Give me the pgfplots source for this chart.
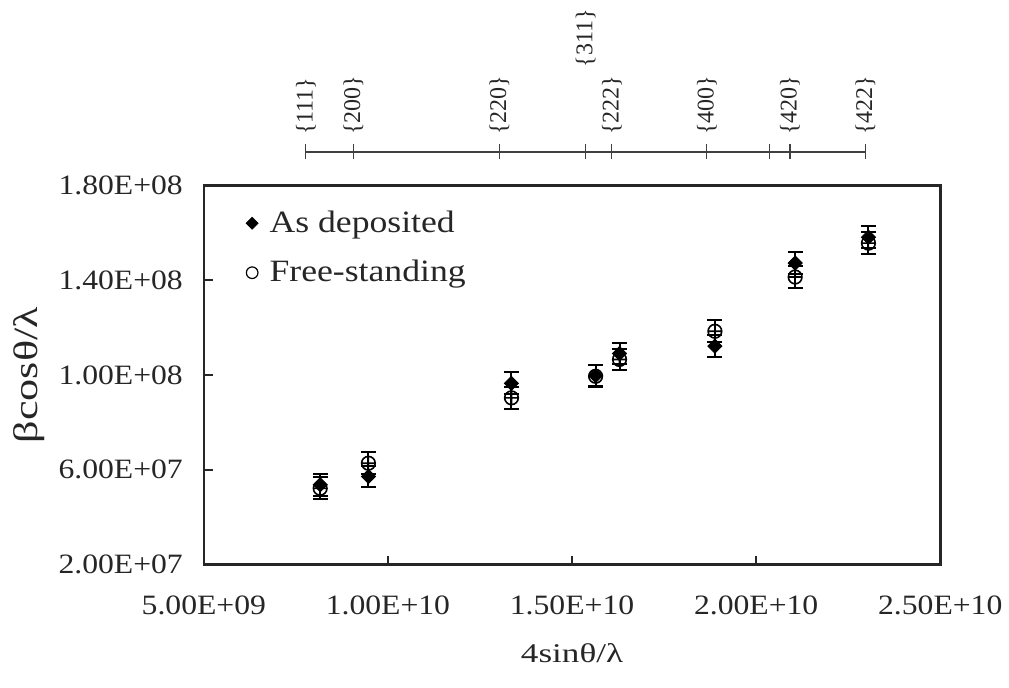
\documentclass[border=0pt]{standalone}
\usepackage{fontspec}
\setmainfont{Liberation Serif}[FakeStretch=1.15]
\newfontfamily\tickfont{Liberation Serif}[FakeStretch=1.13]
\newfontfamily\labfont{Liberation Serif}[FakeStretch=1.3]
\newfontfamily\hklfont{Liberation Serif}
\usepackage{pgfplots}
\pgfplotsset{compat=1.18}

\begin{document}
\begin{tikzpicture}
\begin{axis}[
  scale only axis,
  width=368bp, height=189.4bp,
  xmin=5e9, xmax=2.5e10,
  ymin=2e7, ymax=1.8e8,
  clip=false,
  xtick={5e9,1e10,1.5e10,2e10,2.5e10},
  xticklabels={5.00E+09,1.00E+10,1.50E+10,2.00E+10,2.50E+10},
  ytick={2e7,6e7,1e8,1.4e8,1.8e8},
  yticklabels={2.00E+07,6.00E+07,1.00E+08,1.40E+08,1.80E+08},
  scaled ticks=false,
  xtick pos=left, ytick pos=left,
  tick align=inside,
  major tick length=4.5bp,
  every tick/.style={black!85, line width=1bp},
  axis line style={black!85, line width=1.3bp},
  tick label style={font=\tickfont\fontsize{14bp}{16bp}\selectfont, black!85},
  xticklabel style={yshift=-12bp},
  yticklabel style={xshift=-7bp},
  xlabel={4sinθ/λ},
  ylabel={βcosθ/λ},
  label style={black!85},
  xlabel style={font=\labfont\fontsize{13.5bp}{16bp}\selectfont, yshift=-7.5bp},
  ylabel style={font=\labfont\fontsize{17bp}{19bp}\selectfont, yshift=0bp},
  legend cell align=left,
  legend style={draw=none, fill=none, at={(0,1)}, anchor=north west,
    xshift=18bp, yshift=-8.5bp, row sep=8.5bp,
    font=\fontsize{15.5bp}{18bp}\selectfont, text=black!85},
  error bars/error mark=|,
  error bars/error bar style={line width=1bp, black},
  error bars/error mark options={line width=1bp, black, mark size=3.7bp},
]

% As deposited
\addplot[only marks, black, mark=square*, mark size=2.5bp,
  mark options={rotate=45, fill=black},
  error bars/.cd, y dir=both, y explicit]
  coordinates {
  (8.16e9,5.37e7)    +- (0,4.6e6)
  (9.47e9,5.72e7)    +- (0,4.6e6)
  (1.3355e10,9.65e7) +- (0,4.6e6)
  (1.564e10,9.98e7)  +- (0,4.6e6)
  (1.629e10,1.091e8) +- (0,4.6e6)
  (1.888e10,1.122e8) +- (0,4.6e6)
  (2.106e10,1.473e8) +- (0,4.6e6)
  (2.305e10,1.582e8) +- (0,4.6e6)
  };
\addlegendimage{legend image code/.code={\draw[black,fill=black] plot[mark=square*, mark size=2.1bp, mark options={rotate=45}] coordinates {(0.25cm,0cm)}; \path (0.25cm+6.5bp,0cm);}}

% Free-standing
\addplot[only marks, black, mark=oplus, mark size=3.4bp,
  mark options={line width=0.8bp, fill=none},
  error bars/.cd, y dir=both, y explicit]
  coordinates {
  (8.16e9,5.22e7)    +- (0,4.6e6)
  (9.47e9,6.28e7)    +- (0,4.6e6)
  (1.3355e10,9.04e7) +- (0,4.6e6)
  (1.564e10,9.95e7)  +- (0,4.6e6)
  (1.629e10,1.066e8) +- (0,4.6e6)
  (1.888e10,1.185e8) +- (0,4.6e6)
  (2.106e10,1.414e8) +- (0,4.6e6)
  (2.305e10,1.557e8) +- (0,4.6e6)
  };
\addlegendimage{legend image code/.code={\draw[black,line width=0.6bp] plot[mark=o, mark size=2.9bp] coordinates {(0.25cm,0cm)}; \path (0.25cm+6.5bp,0cm);}}
\legend{,As deposited,,Free-standing}

% reflection positions of the fcc lattice
\addplot[forget plot, black!75, line width=0.6bp, mark=|, mark size=3.75bp,
  mark options={solid, line width=0.6bp}]
  coordinates {
  (7.77e9,1.942e8) (9.06e9,1.942e8) (1.303e10,1.942e8) (1.537e10,1.942e8)
  (1.608e10,1.942e8) (1.866e10,1.942e8) (2.037e10,1.942e8) (2.092e10,1.942e8)
  (2.297e10,1.942e8)
  };
\addplot[forget plot, draw=none, mark=none,
  nodes near coords, point meta=explicit symbolic,
  nodes near coords style={rotate=90, anchor=west, inner sep=0pt, xshift=1.2bp,
    font=\hklfont\fontsize{12bp}{14bp}\selectfont, text=black!85}]
  coordinates {
  (7.77e9,2.002e8)   [\{111\}]
  (9.06e9,2.002e8)   [\{200\}]
  (1.303e10,2.002e8) [\{220\}]
  (1.537e10,2.288e8) [\{311\}]
  (1.608e10,2.002e8) [\{222\}]
  (1.866e10,2.002e8) [\{400\}]
  (2.092e10,2.002e8) [\{420\}]
  (2.297e10,2.002e8) [\{422\}]
  };
\end{axis}
% white margins around the figure
\path (current bounding box.north) ++(0,4.5bp);
\path (current bounding box.south) ++(0,-9bp);
\path (current bounding box.west) ++(-3.5bp,0);
\end{tikzpicture}
\end{document}
